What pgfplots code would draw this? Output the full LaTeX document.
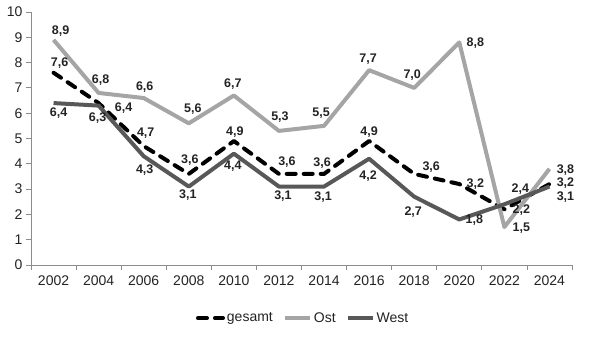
\documentclass[border=0pt]{standalone}
\usepackage{fontspec}
\setmainfont{Liberation Sans}
\usepackage{pgfplots}
\pgfplotsset{compat=1.18}
\definecolor{ost}{RGB}{165,165,165}
\definecolor{west}{RGB}{88,88,88}
\definecolor{axisgray}{RGB}{140,140,140}
\definecolor{txt}{RGB}{35,35,35}
\tikzset{lbl/.style={font=\bfseries\fontsize{12.5}{12.5}\selectfont, text=txt, inner sep=0pt}}
\begin{document}
\begin{tikzpicture}
\path[use as bounding box] (-31pt,-99pt) rectangle (559pt,265pt);
\begin{axis}[
  scale only axis, width=541pt, height=253pt,
  at={(0pt,0pt)}, anchor=south west,
  xmin=-0.5, xmax=11.5, ymin=0, ymax=10,
  axis x line*=bottom, axis y line*=left,
  axis line style={axisgray, line width=0.8pt, -},
  xtick={0,...,11},
  xticklabels={2002,2004,2006,2008,2010,2012,2014,2016,2018,2020,2022,2024},
  major x tick style={draw=none},
  minor xtick={-0.5,0.5,...,11.5},
  minor tick length=5pt,
  minor x tick style={axisgray, line width=0.8pt},
  ytick={0,...,10},
  major tick length=5pt,
  y tick style={axisgray, line width=0.8pt},
  tick align=outside,
  /pgf/number format/assume math mode=true,
  tick label style={font=\fontsize{14}{14}\selectfont, text=txt},
  xticklabel style={yshift=-2pt},
  clip=false,
  legend columns=3,
  legend style={draw=none, fill=none, at={(0.503,-0.21)}, anchor=center,
    font=\fontsize{14}{14}\selectfont, text=txt,
    /tikz/every even column/.append style={column sep=8pt}},
  legend image code/.code={\draw[#1] (0pt,0pt) -- (25pt,0pt);},
]
\addplot[black, line width=4pt, dash pattern=on 9pt off 8pt, line cap=round, line join=round] coordinates {
 (0,7.6) (1,6.4) (2,4.7) (3,3.6) (4,4.9) (5,3.6) (6,3.6) (7,4.9) (8,3.6) (9,3.2) (10,2.2) (11,3.2)};
\addlegendentry{gesamt}
\addplot[ost, line width=4pt, line join=round] coordinates {
 (0,8.9) (1,6.8) (2,6.6) (3,5.6) (4,6.7) (5,5.3) (6,5.5) (7,7.7) (8,7.0) (9,8.8) (10,1.5) (11,3.8)};
\addlegendentry{Ost}
\addplot[west, line width=4pt, line join=round] coordinates {
 (0,6.4) (1,6.3) (2,4.3) (3,3.1) (4,4.4) (5,3.1) (6,3.1) (7,4.2) (8,2.7) (9,1.8) (10,2.4) (11,3.1)};
\addlegendentry{West}
% Ost labels
\node[lbl,xshift=7pt,yshift=9pt] at (axis cs:0,8.9) {8,9};
\node[lbl,xshift=2pt,yshift=13pt] at (axis cs:1,6.8) {6,8};
\node[lbl,xshift=1pt,yshift=11pt] at (axis cs:2,6.6) {6,6};
\node[lbl,xshift=4pt,yshift=14pt] at (axis cs:3,5.6) {5,6};
\node[lbl,xshift=-1pt,yshift=11pt] at (axis cs:4,6.7) {6,7};
\node[lbl,xshift=1pt,yshift=14pt] at (axis cs:5,5.3) {5,3};
\node[lbl,xshift=-3pt,yshift=13pt] at (axis cs:6,5.5) {5,5};
\node[lbl,xshift=-1pt,yshift=11pt] at (axis cs:7,7.7) {7,7};
\node[lbl,xshift=-2pt,yshift=13pt] at (axis cs:8,7.0) {7,0};
\node[lbl,xshift=16pt,yshift=-1pt] at (axis cs:9,8.8) {8,8};
\node[lbl,xshift=17pt,yshift=-1pt] at (axis cs:10,1.5) {1,5};
\node[lbl,xshift=16pt,yshift=-1pt] at (axis cs:11,3.8) {3,8};
% West labels
\node[lbl,xshift=5pt,yshift=-10pt] at (axis cs:0,6.4) {6,4};
\node[lbl,xshift=-1pt,yshift=-12pt] at (axis cs:1,6.3) {6,3};
\node[lbl,xshift=1pt,yshift=-14pt] at (axis cs:2,4.3) {4,3};
\node[lbl,xshift=-1pt,yshift=-9pt] at (axis cs:3,3.1) {3,1};
\node[lbl,xshift=-1pt,yshift=-12pt] at (axis cs:4,4.4) {4,4};
\node[lbl,xshift=4pt,yshift=-10pt] at (axis cs:5,3.1) {3,1};
\node[lbl,xshift=-1pt,yshift=-11pt] at (axis cs:6,3.1) {3,1};
\node[lbl,xshift=-1pt,yshift=-17pt] at (axis cs:7,4.2) {4,2};
\node[lbl,xshift=-1pt,yshift=-15pt] at (axis cs:8,2.7) {2,7};
\node[lbl,xshift=15pt,yshift=-1pt] at (axis cs:9,1.8) {1,8};
\node[lbl,xshift=16pt,yshift=15pt] at (axis cs:10,2.4) {2,4};
\node[lbl,xshift=16pt,yshift=-11pt] at (axis cs:11,3.1) {3,1};
% gesamt labels
\node[lbl,xshift=6pt,yshift=10pt] at (axis cs:0,7.6) {7,6};
\node[lbl,xshift=25pt,yshift=-5pt] at (axis cs:1,6.4) {6,4};
\node[lbl,xshift=2pt,yshift=13pt] at (axis cs:2,4.7) {4,7};
\node[lbl,xshift=1pt,yshift=14pt] at (axis cs:3,3.6) {3,6};
\node[lbl,xshift=1pt,yshift=9pt] at (axis cs:4,4.9) {4,9};
\node[lbl,xshift=8pt,yshift=12pt] at (axis cs:5,3.6) {3,6};
\node[lbl,xshift=-2pt,yshift=11pt] at (axis cs:6,3.6) {3,6};
\node[lbl,xshift=0pt,yshift=9pt] at (axis cs:7,4.9) {4,9};
\node[lbl,xshift=17pt,yshift=7pt] at (axis cs:8,3.6) {3,6};
\node[lbl,xshift=16pt,yshift=0pt] at (axis cs:9,3.2) {3,2};
\node[lbl,xshift=17pt,yshift=-1pt] at (axis cs:10,2.2) {2,2};
\node[lbl,xshift=16pt,yshift=1pt] at (axis cs:11,3.2) {3,2};
\end{axis}
\end{tikzpicture}
\end{document}
